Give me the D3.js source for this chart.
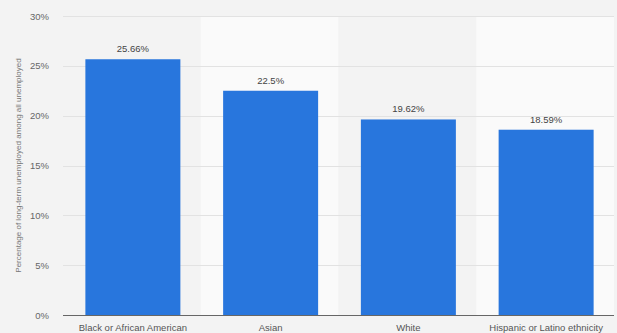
<!DOCTYPE html>
<html>
<head>
<meta charset="utf-8">
<script src="https://cdn.jsdelivr.net/npm/d3@7"></script>
<style>
  html, body { margin: 0; padding: 0; background: #f3f3f3; }
  svg { display: block; font-family: "Liberation Sans", Arial, sans-serif; }
</style>
</head>
<body>
<svg id="chart" width="617" height="333"></svg>
<script>
// Share of long-term unemployed among all unemployed, by race/ethnicity
const categories = ["Black or African American", "Asian", "White", "Hispanic or Latino ethnicity"];
const values = [25.66, 22.5, 19.62, 18.59];
const valueLabels = ["25.66%", "22.5%", "19.62%", "18.59%"];
const yTicks = [0, 5, 10, 15, 20, 25, 30];
const yTitle = "Percentage of long-term unemployed among all unemployed";

const svg = d3.select("#chart");
const margin = { top: 16, right: 3, bottom: 18, left: 63 };
const W = 617, H = 333;
const plotW = W - margin.left - margin.right;
const plotH = H - margin.top - margin.bottom;

const g = svg.append("g").attr("transform", `translate(${margin.left},${margin.top})`);

const x = d3.scaleBand().domain(categories).range([0, plotW]).paddingInner(0).paddingOuter(0);
const y = d3.scaleLinear().domain([0, 30]).range([plotH, 0]);

// alternating column backgrounds
g.selectAll("rect.band")
  .data(categories)
  .join("rect")
  .attr("class", "band")
  .attr("x", d => x(d))
  .attr("y", 0)
  .attr("width", x.bandwidth())
  .attr("height", plotH)
  .attr("fill", (d, i) => i % 2 ? "#fafafa" : "#f3f3f3");

// horizontal gridlines
g.selectAll("line.grid")
  .data(yTicks.filter(t => t > 0))
  .join("line")
  .attr("class", "grid")
  .attr("x1", 0)
  .attr("x2", plotW)
  .attr("y1", d => Math.round(y(d)) + 0.5)
  .attr("y2", d => Math.round(y(d)) + 0.5)
  .attr("stroke", "#e2e2e2")
  .attr("stroke-width", 1);

// y axis labels
const yAxis = d3.axisLeft(y).tickValues(yTicks).tickFormat(d => d + "%").tickSize(0).tickPadding(14);
const ya = g.append("g").call(yAxis);
ya.select(".domain").remove();
ya.selectAll("text").attr("fill", "#666").attr("font-size", 9.5)
  .attr("font-family", "'Liberation Sans', Arial, sans-serif");

// bars
const barW = 95;
g.selectAll("rect.bar")
  .data(values)
  .join("rect")
  .attr("class", "bar")
  .attr("x", (d, i) => x(categories[i]) + (x.bandwidth() - barW) / 2 + 1)
  .attr("y", d => y(d))
  .attr("width", barW)
  .attr("height", d => plotH - y(d))
  .attr("fill", "#2876dd");

// value labels
g.selectAll("text.val")
  .data(values)
  .join("text")
  .attr("class", "val")
  .attr("x", (d, i) => x(categories[i]) + x.bandwidth() / 2 + 1)
  .attr("y", d => y(d) - 7)
  .attr("text-anchor", "middle")
  .attr("fill", "#444")
  .attr("font-size", 9.5)
  .text((d, i) => valueLabels[i]);

// baseline
g.append("line")
  .attr("x1", 0).attr("x2", plotW)
  .attr("y1", plotH + 0.5).attr("y2", plotH + 0.5)
  .attr("stroke", "#666").attr("stroke-width", 1);

// category labels
const xAxis = d3.axisBottom(x).tickSize(0).tickPadding(9);
const xa = g.append("g").attr("transform", `translate(1,${plotH})`).call(xAxis);
xa.select(".domain").remove();
xa.selectAll("text").attr("fill", "#555").attr("font-size", 9.5)
  .attr("font-family", "'Liberation Sans', Arial, sans-serif");

// y axis title
svg.append("text")
  .attr("transform", `translate(21,${margin.top + plotH / 2}) rotate(-90)`)
  .attr("text-anchor", "middle")
  .attr("fill", "#777")
  .attr("font-size", 8)
  .text(yTitle);
</script>
</body>
</html>
